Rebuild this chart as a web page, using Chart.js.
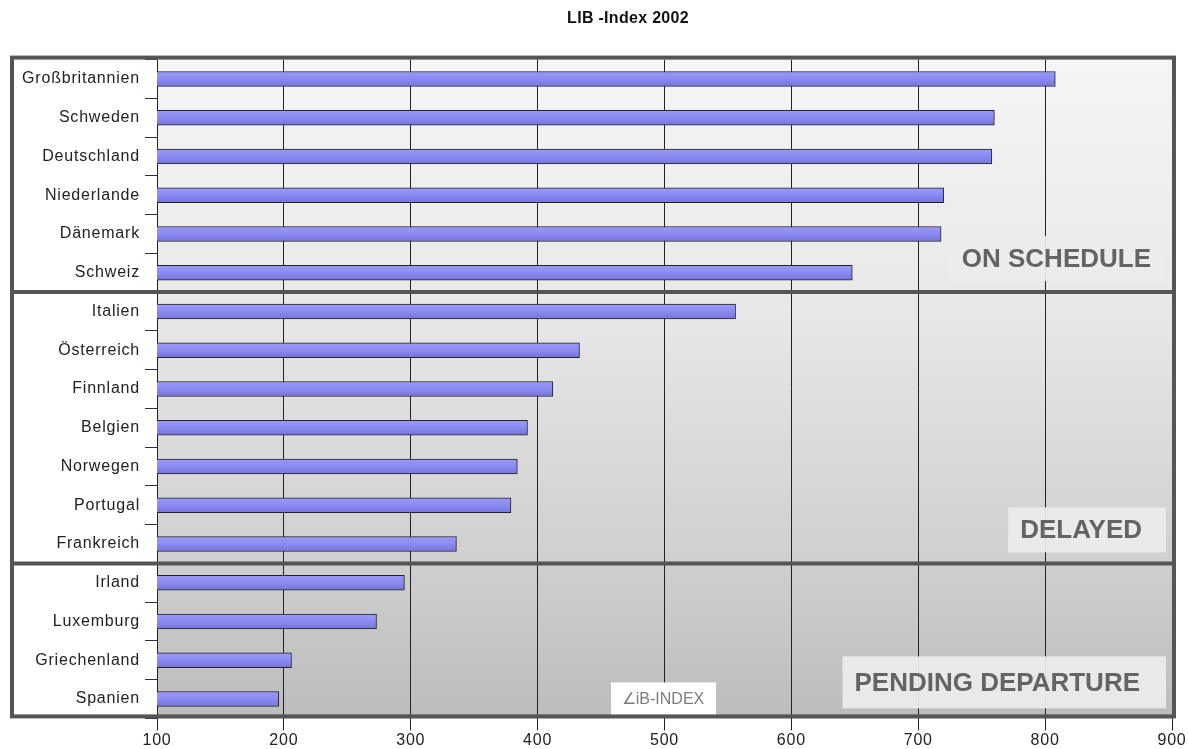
<!DOCTYPE html>
<html>
<head>
<meta charset="utf-8">
<script src="https://cdn.jsdelivr.net/npm/chart.js@4/dist/chart.umd.min.js"></script>
<style>
  html, body { margin: 0; padding: 0; background: #fff; }
  #wrap { width: 1188px; height: 749px; }
</style>
</head>
<body>
<div id="wrap"><canvas id="libChart" width="1188" height="749"></canvas></div>
<script>
const countries = ["Großbritannien", "Schweden", "Deutschland", "Niederlande", "Dänemark", "Schweiz",
  "Italien", "Österreich", "Finnland", "Belgien", "Norwegen", "Portugal", "Frankreich",
  "Irland", "Luxemburg", "Griechenland", "Spanien"];
const indexValues = [808, 760, 758, 720, 718, 648, 556, 433, 412, 392, 384, 379, 336, 295, 273, 206, 196];
const groupNames = ["ON SCHEDULE", "DELAYED", "PENDING DEPARTURE"];
const groupLastIndex = [5, 12, 16];
const xTicks = [100, 200, 300, 400, 500, 600, 700, 800, 900];

const FONT = "'Liberation Sans', Arial, sans-serif";

// background, frame, group labels, title
const decoPlugin = {
  id: "deco",
  beforeDraw(chart) {
    const { ctx, chartArea: a } = chart;
    ctx.save();
    ctx.fillStyle = "#fff";
    ctx.fillRect(0, 0, chart.width, chart.height);
    const g = ctx.createLinearGradient(0, a.top, 0, a.bottom);
    g.addColorStop(0, "#f5f5f5");
    g.addColorStop(0.35, "#e9e9e9");
    g.addColorStop(0.75, "#d0d0d0");
    g.addColorStop(1, "#bcbcbc");
    ctx.fillStyle = g;
    ctx.fillRect(a.left, a.top, a.right - a.left, a.bottom - a.top);
    ctx.restore();
    // the old windows renderer spaced its letters a bit
    ctx.letterSpacing = "0.8px";
  },
  afterDraw(chart) {
    const { ctx, chartArea: a } = chart;
    const y = chart.scales.y;
    const left = 12, top = a.top - 2, right = a.right + 2, bottom = a.bottom - 2;
    const padRight = [15, 24, 26];
    ctx.save();
    ctx.letterSpacing = "0px";

    // group label boxes
    ctx.font = "bold 26px " + FONT;
    ctx.textBaseline = "middle";
    groupLastIndex.forEach((last, i) => {
      let edge = i < groupLastIndex.length - 1
        ? (y.getPixelForValue(last) + y.getPixelForValue(last + 1)) / 2
        : bottom;
      const w = ctx.measureText(groupNames[i]).width;
      const h = i === groupLastIndex.length - 1 ? 52 : 45;
      const bx1 = a.right - 6;
      const bx0 = bx1 - w - 12 - padRight[i];
      const by1 = edge - (i === groupLastIndex.length - 1 ? 8 : 11);
      const by0 = by1 - h;
      ctx.fillStyle = "rgba(236,236,236,0.93)";
      ctx.fillRect(bx0, by0, bx1 - bx0, h);
      ctx.fillStyle = "#646464";
      ctx.textAlign = "left";
      ctx.fillText(groupNames[i], bx0 + 12, (by0 + by1) / 2 + 1);
    });

    // logo
    ctx.fillStyle = "#fff";
    ctx.fillRect(611, a.bottom - 36, 105, 33);
    ctx.fillStyle = "#7c7c7c";
    ctx.font = "16px " + FONT;
    ctx.textAlign = "center";
    ctx.fillText("∠iB-INDEX", 663, a.bottom - 19);

    // frame and separators
    ctx.strokeStyle = "#555";
    ctx.lineWidth = 4;
    ctx.strokeRect(left, top, right - left, bottom - top);
    groupLastIndex.slice(0, -1).forEach(last => {
      const sy = (y.getPixelForValue(last) + y.getPixelForValue(last + 1)) / 2;
      ctx.beginPath();
      ctx.moveTo(left, sy);
      ctx.lineTo(right, sy);
      ctx.stroke();
    });

    // title
    ctx.fillStyle = "#111";
    ctx.font = "bold 16px " + FONT;
    ctx.letterSpacing = "0.3px";
    ctx.textAlign = "center";
    ctx.fillText("LIB -Index 2002", 628, 19);
    ctx.restore();
  }
};

function barFill(context) {
  const chart = context.chart;
  const y = chart.scales.y;
  if (!chart.chartArea || !y) return "#8c8cf0";
  const cy = y.getPixelForValue(context.dataIndex);
  const g = chart.ctx.createLinearGradient(0, cy - 8, 0, cy + 8);
  g.addColorStop(0, "#9c9cfa");
  g.addColorStop(0.5, "#8a8af2");
  g.addColorStop(1, "#7272d8");
  return g;
}

new Chart(document.getElementById("libChart"), {
  type: "bar",
  data: {
    labels: countries,
    datasets: [{
      data: indexValues,
      backgroundColor: barFill,
      borderColor: "#222",
      borderWidth: 1,
      borderSkipped: false,
      barThickness: 15
    }]
  },
  options: {
    indexAxis: "y",
    responsive: false,
    animation: false,
    layout: { padding: { top: 59.6, right: 16, bottom: 0, left: 0 } },
    plugins: {
      legend: { display: false },
      tooltip: { enabled: false },
      title: { display: false }
    },
    scales: {
      x: {
        type: "linear",
        min: 100,
        max: 900,
        afterBuildTicks: (s) => { s.ticks = xTicks.map(v => ({ value: v })); },
        afterFit: (s) => { s.height = 30.6; },
        grid: { color: "#222", lineWidth: 1, tickLength: 12, drawOnChartArea: true },
        border: { display: false },
        ticks: { color: "#222", font: { family: FONT, size: 16 }, padding: 1 }
      },
      y: {
        afterFit: (s) => { s.width = 157; },
        grid: { drawOnChartArea: false, color: "#333", tickLength: 12, offset: true },
        border: { display: false },
        ticks: { color: "#222", font: { family: FONT, size: 16 }, padding: 5 }
      }
    }
  },
  plugins: [decoPlugin]
});
</script>
</body>
</html>
